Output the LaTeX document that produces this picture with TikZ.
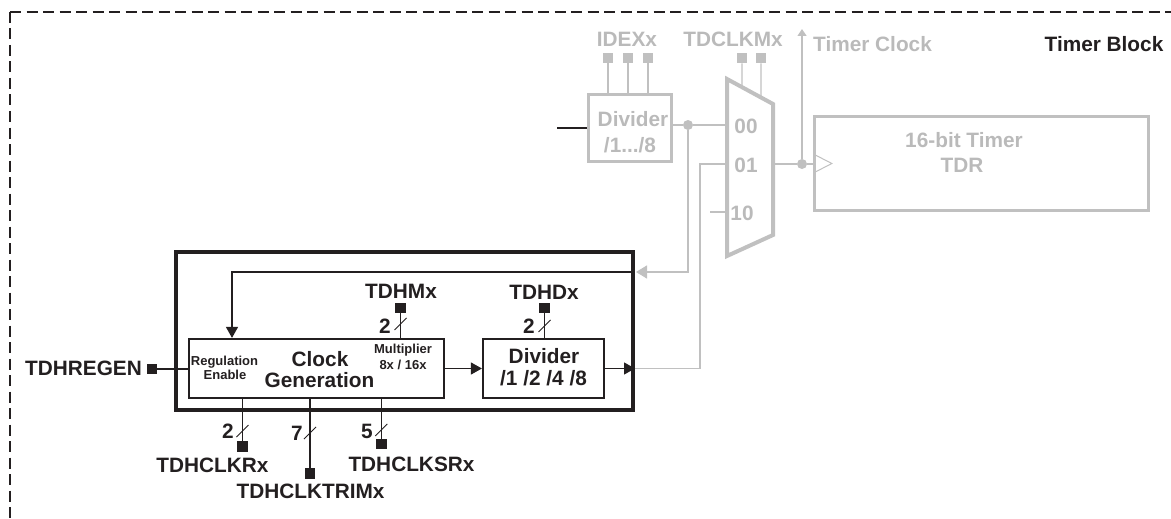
\documentclass[tikz,border=0pt]{standalone}
\usepackage{fontspec}
\setmainfont{Liberation Sans}
\usetikzlibrary{arrows.meta,calc}
\definecolor{lg}{RGB}{192,192,192}
\definecolor{lgt}{RGB}{186,186,186}
\definecolor{ink}{RGB}{35,31,32}
\begin{document}
\begin{tikzpicture}[x=1pt,y=-1pt,
  bigtxt/.style={font=\fontsize{20.8}{25}\selectfont\bfseries,text=ink,inner sep=0pt,anchor=base},
  gtxt/.style={bigtxt,text=lgt},
  smtxt/.style={font=\fontsize{13}{16}\selectfont\bfseries,text=ink,inner sep=0pt,anchor=base},
  pin/.style={fill=ink,draw=none,minimum size=10.5pt,inner sep=0pt},
  gpin/.style={pin,fill=lg},
  wire/.style={draw=ink,line width=1.2pt},
  gwire/.style={draw=lg,line width=1.3pt},
  slash/.style={draw=ink,line width=0.9pt},
  btip/.style={-{Triangle[length=11pt,width=12pt]}},
  gtip/.style={-{Triangle[length=11pt,width=13pt]}},
  ctip/.style={-{Triangle[length=7pt,width=9pt]}},
  gdot/.style={circle,fill=lg,draw=none,inner sep=0pt,minimum size=10pt},
  gbox/.style={draw=lg,line width=3.4pt,inner sep=0pt},
  bbox/.style={draw=ink,line width=2.2pt,inner sep=0pt}
]
\useasboundingbox (0,0) rectangle (1171,519);

% dashed border
\draw[ink,line width=2.6pt,dash pattern=on 11pt off 5.5pt] (10,12) -- (10,545);
\draw[ink,line width=2.6pt,dash pattern=on 11pt off 5.5pt] (10,12) -- (1195,12);
\node[bigtxt] (tblk) at (1104,52) {Timer Block};

% gray divider
\node[gbox,minimum width=83pt,minimum height=67pt] (gdiv) at (630,128) {};
\node[gtxt] (gdivt1) at (633,126) {Divider};
\node[gtxt] (gdivt2) at (630,152) {/1.../8};
\node[gtxt] (idex) at (627,47) {IDEXx};
\foreach \n/\x in {ip1/608,ip2/628,ip3/648}{
  \node[gpin] (\n) at (\x,58) {};
  \draw[gwire] (\n) -- (\n |- gdiv.north);
}
\coordinate (din) at (557,128);
\draw[wire] (din) -- (din -| gdiv.west);

% mux
\coordinate (mtl) at (727,79);
\coordinate (mtr) at (773,104);
\coordinate (mbr) at (773,235);
\coordinate (mbl) at (727,256);
\draw[lg,line width=4pt,line join=miter] (mtl) -- (mtr) -- (mbr) -- (mbl) -- cycle;
\node[gtxt] (m00) at (746,133) {00};
\node[gtxt] (m01) at (746,172) {01};
\node[gtxt] (m10) at (742,220) {10};
\coordinate (min00) at (726,125);
\coordinate (min01) at (726,164);
\coordinate (min10) at (726,212);
\coordinate (in10) at (710,212);
\coordinate (mout) at (774,164);
\node[gdot] (dot1) at (688,125) {};
\draw[gwire] (gdiv.east |- dot1) -- (dot1) -- (min00);
\draw[gwire] (in10) -- (min10);

\node[gtxt] (tdclkm) at (733,47) {TDCLKMx};
\node[gpin] (cp1) at (742,58) {};
\node[gpin] (cp2) at (761,58) {};
\draw[gwire] (cp1) -- ($(mtl)!0.326!(mtr)$);
\draw[gwire] (cp2) -- ($(mtl)!0.739!(mtr)$);

% timer
\node[gdot] (dot2) at (802,164) {};
\node[gbox,line width=3.3pt,minimum width=334pt,minimum height=94pt] (tmr) at (981.5,163.5) {};
\draw[gwire] (mout) -- (dot2) -- (dot2 -| tmr.west);
\draw[lg,line width=1pt] ($(tmr.west)+(1.5,-9)$) -- ($(tmr.west)+(19,0)$) -- ($(tmr.west)+(1.5,9)$);
\node[gtxt] (tmrt1) at (964,147) {16-bit Timer};
\node[gtxt] (tmrt2) at (962,172) {TDR};
\coordinate (tclk) at (802,29);
\draw[gwire,ctip] (dot2) -- (tclk);
\node[gtxt,anchor=base west] (tclkt) at (813,52) {Timer Clock};

% lower block
\node[draw=ink,line width=4pt,inner sep=0pt,minimum width=457pt,minimum height=158pt] (outer) at (404.5,331) {};
\node[bbox,minimum width=255pt,minimum height=59pt] (cg) at (316.5,368.5) {};
\node[bbox,minimum width=121pt,minimum height=59pt] (dv) at (543.5,368.5) {};

\node[bigtxt] (cgt1) at (320,366) {Clock};
\node[bigtxt] (cgt2) at (319.5,387) {Generation};
\node[smtxt] (reg1) at (224.5,365) {Regulation};
\node[smtxt] (reg2) at (225,379) {Enable};
\node[smtxt] (mul1) at (403,353) {Multiplier};
\node[smtxt] (mul2) at (403,369) {8x / 16x};
\node[bigtxt] (dvt1) at (544,363) {Divider};
\node[bigtxt] (dvt2) at (543.5,385) {/1 /2 /4 /8};

% pins top
\node[pin] (pm) at (400.5,308) {};
\draw[wire] (pm) -- (pm |- cg.north);
\node[bigtxt] (tdhm) at (401,298) {TDHMx};
\node[bigtxt] (nm) at (385,333) {2};
\draw[slash] (394.5,330) -- (406.5,318);
\node[pin] (pd) at (544.5,308) {};
\draw[wire] (pd) -- (pd |- dv.north);
\node[bigtxt] (tdhd) at (544,299) {TDHDx};
\node[bigtxt] (nd) at (529,333) {2};
\draw[slash] (538.5,332) -- (550.5,320);

% TDHREGEN
\node[pin] (pr) at (152,369) {};
\draw[wire] (pr) -- (pr -| cg.west);
\node[bigtxt] (regen) at (83.5,375) {TDHREGEN};

% pins bottom
\node[pin] (pk) at (242.5,446.7) {};
\draw[wire] (pk |- cg.south) -- (pk);
\node[bigtxt] (nk) at (228,438) {2};
\draw[slash] (236.5,437) -- (248.5,425);
\node[bigtxt] (clkr) at (212.5,472) {TDHCLKRx};

\node[pin] (pt) at (310,473.5) {};
\draw[wire] (pt |- cg.south) -- (pt);
\node[bigtxt] (nt) at (297,440) {7};
\draw[slash] (304,439) -- (316,427);
\node[bigtxt] (trim) at (310.5,498) {TDHCLKTRIMx};

\node[pin] (ps) at (381.3,444) {};
\draw[wire] (ps |- cg.south) -- (ps);
\node[bigtxt] (n5) at (367,438) {5};
\draw[slash] (375.3,436) -- (387.3,424);
\node[bigtxt] (clksr) at (411.5,471) {TDHCLKSRx};

% arrows
\draw[wire,btip] (cg.east) -- (dv.west);
\coordinate (dvo) at (outer.east |- dv.east);
\draw[wire,btip] (dv.east) -- (dvo);
\coordinate (fbin) at (633,272);
\coordinate (fbturn) at (232,272);
\draw[wire,btip] (fbin) -- (fbturn) -- (fbturn |- cg.north);
\coordinate (g1) at (688,272);
\coordinate (fbg) at (636,272);
\draw[gwire,gtip] (dot1) -- (g1) -- (fbg);
\coordinate (dvg) at (635,368.5);
\coordinate (g2) at (700,368.5);
\coordinate (g3) at (700,164);
\draw[gwire] (dvg) -- (g2) -- (g3) -- (min01);
\end{tikzpicture}
\end{document}
